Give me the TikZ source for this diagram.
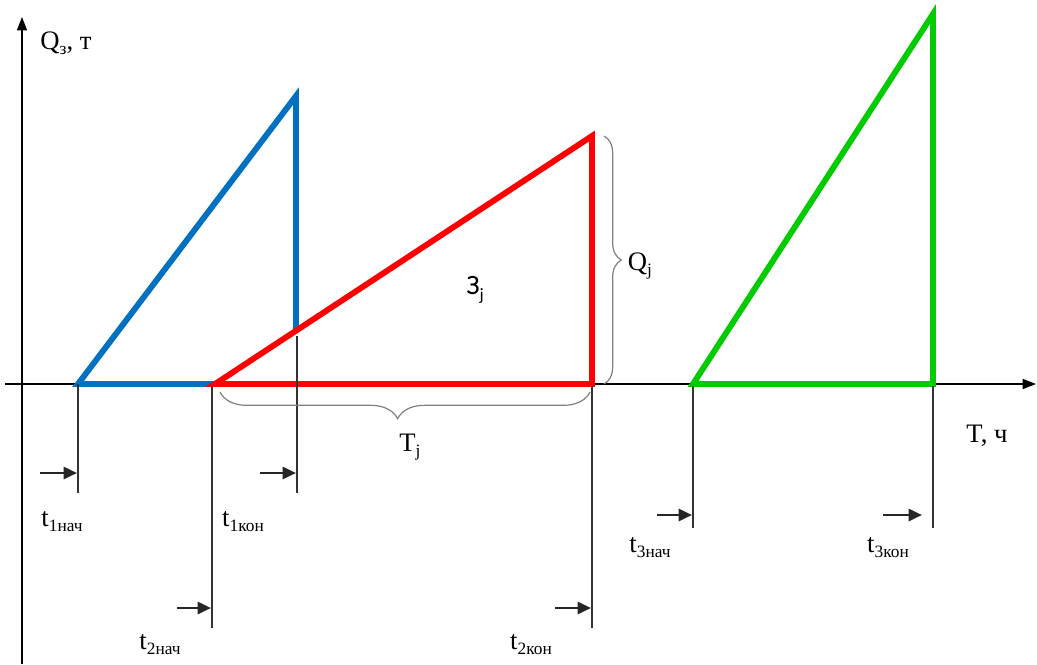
\documentclass[tikz,border=0pt]{standalone}
\usepackage{fontspec}
\setmainfont{Liberation Serif}
\newfontfamily\calfont{Carlito}
\usetikzlibrary{arrows.meta,decorations.pathreplacing}
\newcommand{\lowsub}[1]{\raisebox{-0.4ex}{\fontsize{13}{13}\selectfont #1}}
\definecolor{cblue}{RGB}{0,112,192}
\definecolor{cred}{RGB}{255,0,0}
\definecolor{cgreen}{RGB}{0,204,0}
\begin{document}
\begin{tikzpicture}[x=0.75pt,y=-0.75pt,
  axis/.style={line width=1.1pt,-{Triangle[length=10pt,width=7.5pt]}},
  tri/.style={line width=4.4pt,line join=miter},
  marker/.style={line width=0.9pt,black!80},
  markarrow/.style={line width=2pt,black!85,-{Triangle[length=10pt,width=9pt]}},
  lbl/.style={inner sep=0pt,font=\fontsize{20}{24}\selectfont},
  brc/.style={gray,line width=0.9pt,decorate}]
\useasboundingbox (0,0) rectangle (1037,664);
% axes
\coordinate (yb) at (22,664);
\coordinate (yt) at (22,17);
\coordinate (xl) at (5,384);
\coordinate (xr) at (1036,384);
\draw[axis] (yb) -- (yt);
\draw[axis] (xl) -- (xr);
% blue triangle
\coordinate (b1) at (78,384);
\coordinate (b2) at (296,96);
\coordinate (b3) at (296,384);
\draw[tri,cblue] (b1) -- (b2) -- (b3) -- cycle;
% red triangle (white fill hides blue)
\coordinate (r1) at (215,384);
\coordinate (r2) at (592,136);
\coordinate (r3) at (592,384);
\draw[tri,cred,fill=white] (r1) -- (r2) -- (r3) -- cycle;
% green triangle
\coordinate (g1) at (693,384);
\coordinate (g2) at (933,14);
\coordinate (g3) at (933,384);
\draw[tri,cgreen] (g1) -- (g2) -- (g3) -- cycle;
% marker lines
\coordinate (m1b) at (78,493);
\coordinate (m2t) at (297,336);
\coordinate (m2b) at (297,493);
\coordinate (m3t) at (212,386);
\coordinate (m3b) at (212,628);
\coordinate (m4t) at (592,386);
\coordinate (m4b) at (592,628);
\coordinate (m5t) at (693,386);
\coordinate (m5b) at (693,528);
\coordinate (m6t) at (933,386);
\coordinate (m6b) at (933,528);
\draw[marker] (b1) -- (m1b);
\draw[marker] (m2t) -- (m2b);
\draw[marker] (m3t) -- (m3b);
\draw[marker] (m4t) -- (m4b);
\draw[marker] (m5t) -- (m5b);
\draw[marker] (m6t) -- (m6b);
% marker arrows
\coordinate (a1s) at (40,473);  \coordinate (a1e) at (77,473);
\coordinate (a2s) at (260,473); \coordinate (a2e) at (296,473);
\coordinate (a3s) at (177,608); \coordinate (a3e) at (211,608);
\coordinate (a4s) at (555,608); \coordinate (a4e) at (591,608);
\coordinate (a5s) at (657,515); \coordinate (a5e) at (692,515);
\coordinate (a6s) at (883,515); \coordinate (a6e) at (922,515);
\draw[markarrow] (a1s) -- (a1e);
\draw[markarrow] (a2s) -- (a2e);
\draw[markarrow] (a3s) -- (a3e);
\draw[markarrow] (a4s) -- (a4e);
\draw[markarrow] (a5s) -- (a5e);
\draw[markarrow] (a6s) -- (a6e);
% braces
\coordinate (qb1) at (604,136);
\coordinate (qb2) at (604,384);
\draw[brc,decoration={brace,amplitude=13pt}] (qb1) -- (qb2);
\coordinate (tb1) at (590,392);
\coordinate (tb2) at (220,392);
\draw[brc,decoration={brace,amplitude=20pt,aspect=0.52}] (tb1) -- (tb2);
% labels
\node[lbl] (lq) at (66,43) {Q\lowsub{з}, т};
\node[lbl] (lt) at (987,436) {T, ч};
\node[lbl] (lqj) at (640,266) {Q\lowsub{j}};
\node[lbl] (ltj) at (410,447) {T\lowsub{j}};
\node[inner sep=0pt,font=\calfont\fontsize{21}{24}\selectfont] (lzj) at (475,290) {З\lowsub{j}};
\node[lbl] (l1n) at (62,522) {t\lowsub{1нач}};
\node[lbl] (l1k) at (243,522) {t\lowsub{1кон}};
\node[lbl] (l2n) at (160,645) {t\lowsub{2нач}};
\node[lbl] (l2k) at (531,645) {t\lowsub{2кон}};
\node[lbl] (l3n) at (650,548) {t\lowsub{3нач}};
\node[lbl] (l3k) at (888,548) {t\lowsub{3кон}};
\end{tikzpicture}
\end{document}
